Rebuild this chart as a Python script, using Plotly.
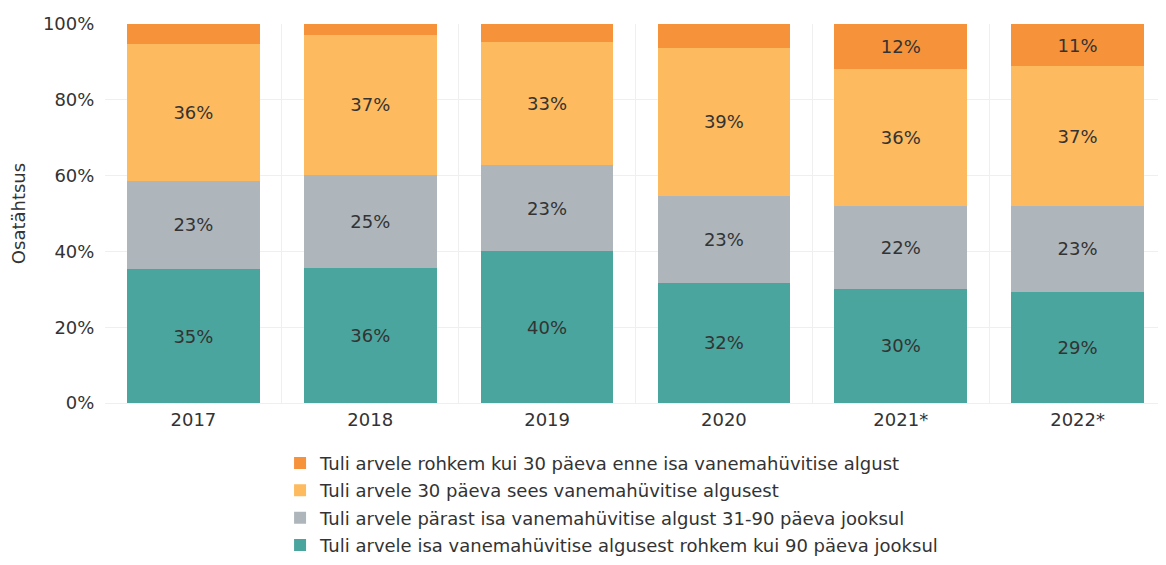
import plotly.graph_objects as go

# Years and shares (%) for each group
years = ["2017", "2018", "2019", "2020", "2021*", "2022*"]
over_90 = [35.3, 35.6, 40.1, 31.7, 30.1, 29.3]
days_31_90 = [23.4, 24.6, 22.6, 22.9, 21.9, 22.7]
within_30 = [36.0, 36.9, 32.6, 39.1, 36.0, 36.8]
before_30 = [5.3, 2.9, 4.7, 6.3, 12.0, 11.2]
y_ticks = [0, 20, 40, 60, 80, 100]

names = [
    "Tuli arvele isa vanemahüvitise algusest rohkem kui 90 päeva jooksul",
    "Tuli arvele pärast isa vanemahüvitise algust 31-90 päeva jooksul",
    "Tuli arvele 30 päeva sees vanemahüvitise algusest",
    "Tuli arvele rohkem kui 30 päeva enne isa vanemahüvitise algust",
]
colors = ["#4aa59e", "#aeb6bc", "#fdba5e", "#f6923a"]
series = [over_90, days_31_90, within_30, before_30]

fig = go.Figure()
for i, (name, color, values) in enumerate(zip(names, colors, series)):
    # Tableau hides labels that don't fit the segment
    labels = [f"{v:.0f}%" if v >= 10 else "" for v in values]
    fig.add_trace(go.Bar(
        x=years, y=values, name=name,
        marker=dict(color=color, line=dict(width=0)),
        text=labels, textposition="inside", insidetextanchor="middle",
        textfont=dict(size=18, color="#333333"),
        legendgroup=name, legendrank=len(names) - i,
    ))

# the page body adds an 8px offset, so margins are trimmed to match
fig.update_layout(
    barmode="stack",
    bargap=0.25,
    width=1166, height=565,
    margin=dict(l=97, r=8, t=16, b=170),
    plot_bgcolor="white", paper_bgcolor="white",
    font=dict(family="DejaVu Sans", size=18, color="#333333"),
    uniformtext=dict(mode="show", minsize=10),
    legend=dict(
        traceorder="grouped", tracegroupgap=1,
        orientation="v", x=0.165, xanchor="left",
        y=-0.11, yanchor="top",
        font=dict(size=18, color="#333333"),
    ),
    showlegend=True,
)
fig.update_yaxes(
    range=[0, 100], tickvals=y_ticks,
    ticktext=[f"{v}%" for v in y_ticks],
    ticks="outside", ticklen=6, tickcolor="white",
    showgrid=True, gridcolor="#efefef",
    zeroline=False, showline=False, automargin=False,
    title=dict(text="Osatähtsus", font=dict(size=18), standoff=12),
)
fig.update_xaxes(
    tickson="boundaries", showgrid=True, gridcolor="#efefef",
    showline=True, linecolor="#efefef", ticks="", ticklen=0,
    tickfont=dict(size=18), automargin=False,
)

fig.write_html("out.html")
